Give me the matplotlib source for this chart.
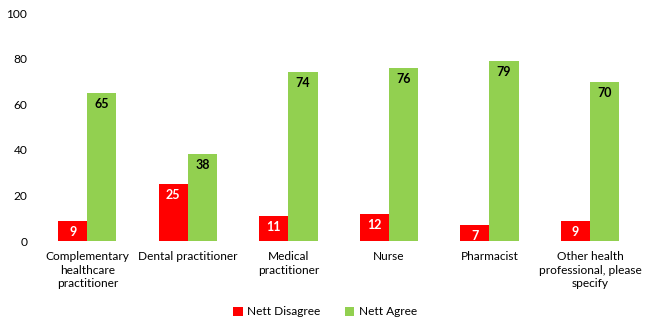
import numpy as np
import matplotlib.pyplot as plt

plt.rcParams['font.family'] = ['Lato', 'DejaVu Sans']

categories = ["Complementary\nhealthcare\npractitioner", "Dental practitioner",
              "Medical\npractitioner", "Nurse", "Pharmacist",
              "Other health\nprofessional, please\nspecify"]
disagree = [9, 25, 11, 12, 7, 9]
agree = [65, 38, 74, 76, 79, 70]

red = "#FF0000"
green = "#92D050"

fig = plt.figure(figsize=(6.5, 3.28), dpi=100)
ax = fig.add_axes([0.057, 0.265, 0.928, 0.695])

x = np.arange(len(categories))
w = 0.29
b1 = ax.bar(x - w/2, disagree, w, color=red, label="Nett Disagree")
b2 = ax.bar(x + w/2, agree, w, color=green, label="Nett Agree")

for rect, v in zip(b1, disagree):
    ax.text(rect.get_x() + rect.get_width()/2, v - 2.2, str(v), ha='center', va='top',
            color='white', fontsize=9, fontweight='bold')
for rect, v in zip(b2, agree):
    ax.text(rect.get_x() + rect.get_width()/2, v - 2.2, str(v), ha='center', va='top',
            color='black', fontsize=9, fontweight='bold')

ax.set_xlim(-0.5, len(categories) - 0.5)
ax.set_ylim(0, 100)
ax.set_yticks([0, 20, 40, 60, 80, 100])
ax.set_xticks(x)
ax.set_xticklabels(categories, fontsize=8.6, linespacing=1.3)
ax.tick_params(axis='both', length=0, labelsize=8.6, pad=7)
for s in ax.spines.values():
    s.set_visible(False)

fig.legend(loc='lower center', bbox_to_anchor=(0.5, 0.0), ncol=2, frameon=False,
           fontsize=8.6, handlelength=0.8, handleheight=0.8, columnspacing=2.0,
           handletextpad=0.4)

fig.savefig("out.png", dpi=100)
